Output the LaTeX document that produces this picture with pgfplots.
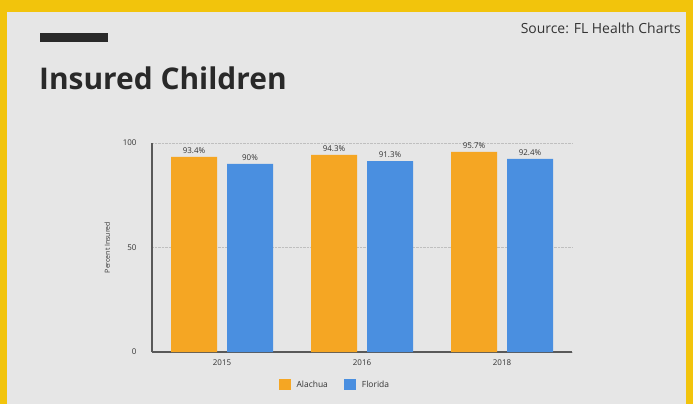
\documentclass[border=0pt]{standalone}
\usepackage{fontspec}
\setmainfont{Open Sans}
\usepackage{pgfplots}
\pgfplotsset{compat=1.18}
\definecolor{bgyellow}{HTML}{F2C40C}
\definecolor{bggrey}{HTML}{E6E6E6}
\definecolor{orangebar}{HTML}{F5A623}
\definecolor{bluebar}{HTML}{4A8FE0}
\definecolor{txtgrey}{HTML}{333333}
\begin{document}
\begin{tikzpicture}[x=1bp,y=1bp]
\fill[bgyellow] (0,0) rectangle (693,404);
\fill[bggrey] (7,0) rectangle (686,392);
\fill[txtgrey!80!black] (40,362) rectangle (108,371);
\node[anchor=west,font=\bfseries\fontsize{30}{34}\selectfont,text=txtgrey!80!black,inner sep=0] at (39,326) {Insured Children};
\node[anchor=east,font=\fontsize{14}{15}\selectfont,text=txtgrey,inner sep=0] at (681,376) {Source: FL Health Charts};
\begin{axis}[
  at={(152bp,52bp)}, anchor=south west,
  scale only axis, width=420bp, height=209bp,
  ybar, bar width=46bp,
  xmin=-0.5, xmax=2.5, ymin=0, ymax=100,
  xtick={0,1,2}, xticklabels={2015,2016,2018},
  ytick={0,50,100},
  axis x line*=bottom, axis y line*=left,
  axis line style={draw=black!65, line width=1.2pt},
  x axis line style={-}, y axis line style={-},
  major tick length=0pt,
  ymajorgrids, major grid style={densely dotted, black!25, line width=0.8pt},
  tick label style={font=\fontsize{8}{9}\selectfont, text=txtgrey},
  /pgf/number format/assume math mode=true,
  yticklabel style={xshift=-12bp},
  xticklabel style={yshift=-4bp},
  ylabel={Percent Insured}, ylabel style={font=\fontsize{7}{8}\selectfont, text=txtgrey, yshift=6bp},
  nodes near coords={\pgfmathprintnumber{\pgfplotspointmeta}\%},
  every node near coord/.append style={font=\fontsize{8}{9}\selectfont, text=txtgrey, yshift=0bp},
  legend columns=2,
  legend style={at={(0.44,-0.12)}, anchor=north, draw=none, fill=none,
    font=\fontsize{8.5}{10}\selectfont, text=txtgrey,
    nodes={inner xsep=6bp},
    /tikz/every even column/.append style={column sep=10bp}},
  legend image code/.code={\fill[#1] (0bp,-5bp) rectangle (12bp,6bp);},
]
\addplot[fill=orangebar, draw=none, bar shift=-28bp] coordinates {(0,93.4) (1,94.3) (2,95.7)};
\addplot[fill=bluebar, draw=none, bar shift=28bp] coordinates {(0,90) (1,91.3) (2,92.4)};
\legend{Alachua, Florida}
\end{axis}
\end{tikzpicture}
\end{document}
